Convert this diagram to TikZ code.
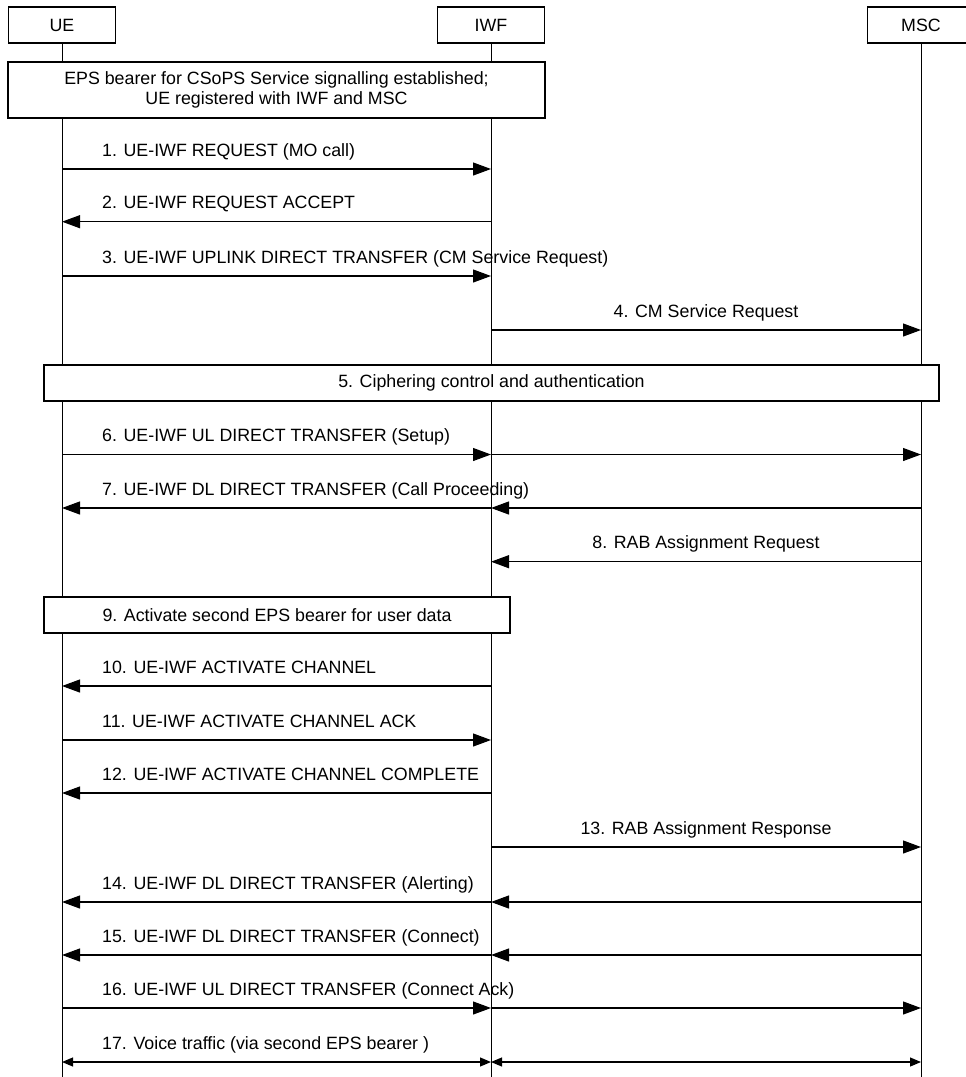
\documentclass[tikz,border=0pt]{standalone}
\usepackage{fontspec}
\setmainfont{Liberation Sans}
\usetikzlibrary{arrows.meta,positioning,calc}

\begin{document}
\begin{tikzpicture}[x=1pt,y=-1pt,
    font=\fontsize{17.8}{20.5}\selectfont,
    ent/.style={draw,line width=1.1pt,minimum width=107pt,minimum height=36pt,inner sep=0pt},
    band/.style={draw,fill=white,line width=1.1pt,inner sep=0pt,align=center},
    msg/.style={line width=1.1pt,-{Triangle[length=18pt,width=13pt]}},
    voice/.style={line width=1.1pt,{Triangle[length=11pt,width=9pt]}-{Triangle[length=11pt,width=9pt]}},
    lbl/.style={anchor=base west,inner sep=0pt},
    midlbl/.style={anchor=base,inner sep=0pt}]
  \useasboundingbox (0,0) rectangle (966,1077);
  \node[ent] (ue) at (62,25) {UE};
  \node[ent] (iwf) at (491,25) {IWF};
  \node[ent] (msc) at (921,25) {MSC};
  \foreach \e/\x in {ue/62,iwf/491,msc/921}{
    \coordinate (\e-bot) at (\x,1077);
    \draw[line width=0.9pt] (\e) -- (\e-bot);
  }
  \foreach \n/\y in {1/169,2/221.7,3/276,4/330,6/454.5,7/508,8/561.7,10/686,11/740,12/793,13/847,14/902,15/955,16/1008,17/1062}{
    \coordinate (ue\n) at (62,\y);
    \coordinate (iwf\n) at (491,\y);
    \coordinate (msc\n) at (921,\y);
  }
  \node[band,minimum width=537pt,minimum height=56pt] (eps) at (276.5,90)
    {EPS bearer for CSoPS Service signalling established;\\UE registered with IWF and MSC};
  \node[band,minimum width=895pt,minimum height=36pt] (ciph) at (491.5,383) {5. Ciphering control and authentication};
  \node[band,minimum width=466pt,minimum height=36pt] (act) at (277,615) {9. Activate second EPS bearer for user data};
  \foreach \n/\a/\b/\t in {1/ue/iwf/{1. UE-IWF REQUEST (MO call)},
      2/iwf/ue/{2. UE-IWF REQUEST ACCEPT},
      3/ue/iwf/{3. UE-IWF UPLINK DIRECT TRANSFER (CM Service Request)},
      10/iwf/ue/{10. UE-IWF ACTIVATE CHANNEL},
      11/ue/iwf/{11. UE-IWF ACTIVATE CHANNEL ACK},
      12/iwf/ue/{12. UE-IWF ACTIVATE CHANNEL COMPLETE}}{
    \draw[msg] (\a\n) -- (\b\n);
    \node[lbl] (t\n) at ($(ue\n)+(40,-13)$) {\t};
  }
  \foreach \n/\a/\b/\t in {4/iwf/msc/{4. CM Service Request},
      8/msc/iwf/{8. RAB Assignment Request},
      13/iwf/msc/{13. RAB Assignment Response}}{
    \draw[msg] (\a\n) -- (\b\n);
    \node[midlbl] (t\n) at ($(iwf\n)!0.5!(msc\n)+(0,-13)$) {\t};
  }
  \foreach \n/\t in {6/{6. UE-IWF UL DIRECT TRANSFER (Setup)},
      16/{16. UE-IWF UL DIRECT TRANSFER (Connect Ack)}}{
    \draw[msg] (ue\n) -- (iwf\n);
    \draw[msg] (iwf\n) -- (msc\n);
    \node[lbl] (t\n) at ($(ue\n)+(40,-13)$) {\t};
  }
  \foreach \n/\t in {7/{7. UE-IWF DL DIRECT TRANSFER (Call Proceeding)},
      14/{14. UE-IWF DL DIRECT TRANSFER (Alerting)},
      15/{15. UE-IWF DL DIRECT TRANSFER (Connect)}}{
    \draw[msg] (msc\n) -- (iwf\n);
    \draw[msg] (iwf\n) -- (ue\n);
    \node[lbl] (t\n) at ($(ue\n)+(40,-13)$) {\t};
  }
  \draw[voice] (ue17) -- (iwf17);
  \draw[voice] (iwf17) -- (msc17);
  \node[lbl] (t17) at ($(ue17)+(40,-13)$) {17. Voice traffic (via second EPS bearer )};
\end{tikzpicture}
\end{document}
